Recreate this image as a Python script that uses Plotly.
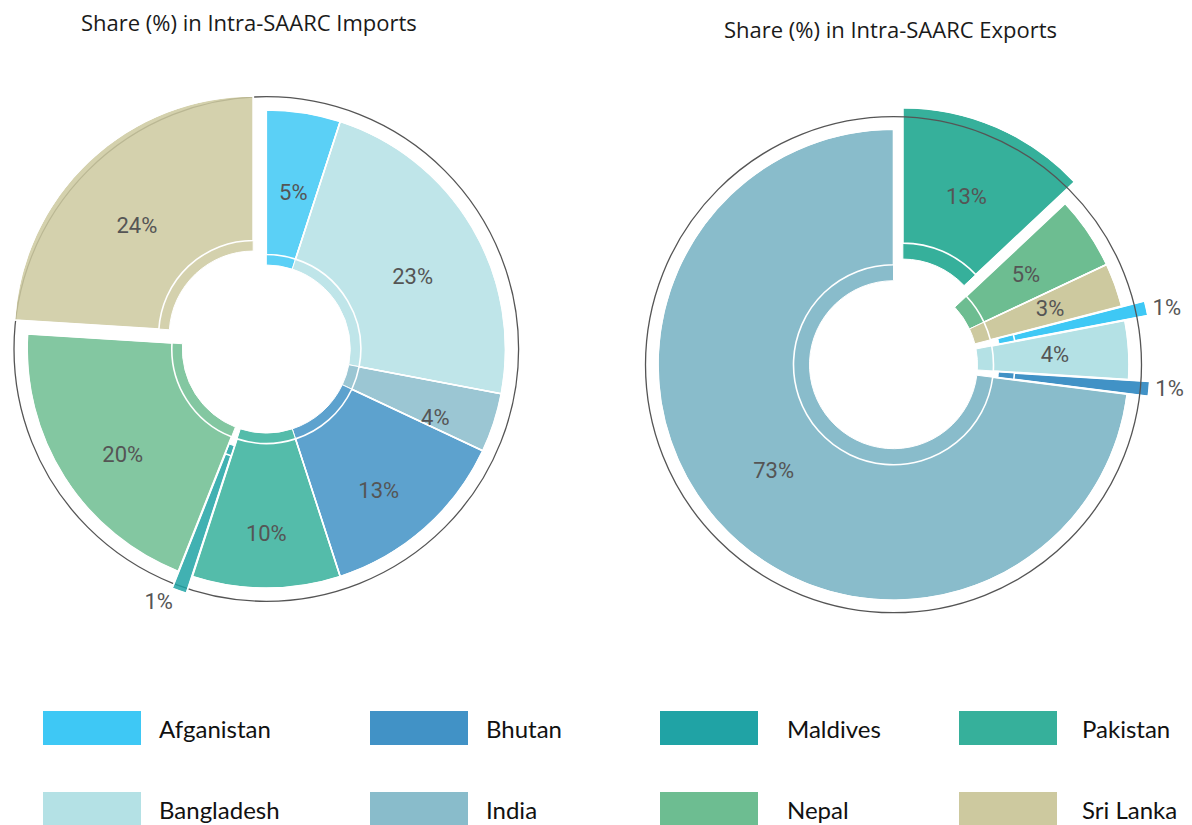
import plotly.graph_objects as go

# ---------------- data ----------------
countries = ["Afganistan", "Bhutan", "Maldives", "Pakistan",
             "Bangladesh", "India", "Nepal", "Sri Lanka"]
country_colors = ["#3ec8f5", "#4192c6", "#20a3a5", "#36b09b",
                  "#b4e1e5", "#89bccb", "#6dbd91", "#cdc99f"]

imports_labels = ["Afganistan", "Bangladesh", "India", "Bhutan",
                  "Pakistan", "Maldives", "Nepal", "Sri Lanka"]
imports_values = [5, 23, 4, 13, 10, 1, 20, 24]

exports_labels = ["Pakistan", "Nepal", "Sri Lanka", "Afganistan",
                  "Bangladesh", "Bhutan", "India"]
exports_values = [13, 5, 3, 1, 4, 1, 73]

titles = ["Share (%) in Intra-SAARC Imports", "Share (%) in Intra-SAARC Exports"]

# ---------------- styling / geometry ----------------
W, H = 1192, 825
OFF = 8  # page body margin of the html page
color_of = dict(zip(countries, country_colors))
LABEL_FONT = dict(family="Roboto", size=22, color="#555555")


def rgba(hx, a):
    hx = hx.lstrip("#")
    r, g, b = int(hx[0:2], 16), int(hx[2:4], 16), int(hx[4:6], 16)
    return f"rgba({r},{g},{b},{a})"


def px(x):
    return (x - OFF) / W


def py(y):
    return 1 - (y - OFF) / H


def pie_box(cx, cy, r, maxpull):
    """Square domain around (cx, cy); returns domain and effective radius."""
    half = r * (1 + maxpull)
    half = min(half, cx - OFF, W + OFF - cx, cy - OFF, H + OFF - cy)
    dom = dict(x=[max(0.0, px(cx - half)), min(1.0, px(cx + half))],
               y=[max(0.0, py(cy + half)), min(1.0, py(cy - half))])
    return dom, half / (1 + maxpull)


pies = [
    dict(labels=imports_labels, values=imports_values,
         pull=[0, 0, 0, 0, 0, 0.075, 0, 0.08],
         outside=["Maldives"], main_inside=[], alpha=0.85,
         cx=266.3, cy=349.0, r=243.0, hole=84.0, ring=94.5, circle=252.3,
         text_r=200.0, text_hole=0.70, text_dy=14.0, circle_layer="below"),
    dict(labels=exports_labels, values=exports_values,
         pull=[0.1, 0, 0, 0.1, 0, 0.09, 0],
         outside=["Afganistan", "Bhutan"], main_inside=["India"], alpha=1.0,
         cx=893.5, cy=364.7, r=235.5, hole=84.0, ring=100.0, circle=248.0,
         text_r=182.0, text_hole=0.76, text_dy=0.0, circle_layer="above"),
]

fig = go.Figure()
shapes = []
annotations = []

for p in pies:
    n = len(p["labels"])
    dom, r_eff = pie_box(p["cx"], p["cy"], p["r"], max(p["pull"]))
    mode = ["outside" if l in p["outside"] else
            "main" if l in p["main_inside"] else "text" for l in p["labels"]]
    pct = [f"{v}%" for v in p["values"]]
    common = dict(labels=p["labels"], values=p["values"], sort=False,
                  direction="clockwise", rotation=0, automargin=False,
                  showlegend=False)
    # main slices (+ outside labels for the tiny slices)
    fig.add_trace(go.Pie(
        **common, pull=p["pull"], hole=p["hole"] / r_eff, domain=dom,
        marker=dict(colors=[rgba(color_of[l], p["alpha"]) for l in p["labels"]],
                    line=dict(color="white", width=1)),
        text=pct, textinfo="text",
        textposition=[{"outside": "outside", "main": "inside"}.get(m, "none") for m in mode],
        insidetextorientation="horizontal",
        insidetextfont=LABEL_FONT, outsidetextfont=LABEL_FONT,
        hoverinfo="label+value",
    ))
    # thin white ring inside each slice
    fig.add_trace(go.Pie(
        **common, pull=p["pull"], hole=p["ring"] / r_eff, domain=dom,
        marker=dict(colors=["rgba(0,0,0,0)"] * n,
                    line=dict(color="white", width=1.6)),
        textinfo="none", hoverinfo="skip",
    ))
    # transparent copy that only carries the inside percentage labels
    offsets = [pl * r_eff for pl in p["pull"]]
    tpull = [o / p["text_r"] for o in offsets]
    tdom, _ = pie_box(p["cx"], p["cy"] + p["text_dy"], p["text_r"], max(tpull))
    fig.add_trace(go.Pie(
        **common, pull=tpull, hole=p["text_hole"], domain=tdom,
        marker=dict(colors=["rgba(0,0,0,0)"] * n, line=dict(width=0)),
        text=pct, textinfo="text",
        textposition=["inside" if m == "text" else "none" for m in mode],
        insidetextorientation="horizontal",
        insidetextfont=LABEL_FONT, hoverinfo="skip",
    ))
    shapes.append(dict(
        type="circle", xref="paper", yref="paper",
        x0=px(p["cx"] - p["circle"]), x1=px(p["cx"] + p["circle"]),
        y0=py(p["cy"] + p["circle"]), y1=py(p["cy"] - p["circle"]),
        line=dict(color="#555555", width=1.3), layer=p["circle_layer"],
    ))

# titles
title_pos = [(249, 22), (890, 29)]
for t, (tx, ty) in zip(titles, title_pos):
    annotations.append(dict(
        text=t, x=px(tx), y=py(ty), xref="paper", yref="paper",
        xanchor="center", yanchor="middle", showarrow=False,
        font=dict(family="Open Sans", size=22, color="#1a1a1a"),
    ))

# legend (2 rows x 4 columns)
col_box_x = [43, 370, 660, 959]
col_text_x = [157, 484, 785, 1080]
row_box_y = [711, 792]
box_w, box_h = 98, 34
for i, (name, col) in enumerate(zip(countries, country_colors)):
    r_, c_ = divmod(i, 4)
    x0 = col_box_x[c_]
    y0 = row_box_y[r_]
    shapes.append(dict(
        type="rect", xref="paper", yref="paper",
        x0=px(x0), x1=px(x0 + box_w), y0=py(y0 + box_h), y1=py(y0),
        fillcolor=col, line=dict(width=0), layer="above",
    ))
    annotations.append(dict(
        text=name, x=px(col_text_x[c_]), y=py(y0 + box_h / 2),
        xref="paper", yref="paper", xanchor="left", yanchor="middle",
        showarrow=False,
        font=dict(family="Lato", size=24, color="#111111"),
    ))

fig.update_layout(
    width=W, height=H, autosize=False,
    margin=dict(l=0, r=0, t=0, b=0, pad=0, autoexpand=False),
    paper_bgcolor="white", plot_bgcolor="white",
    shapes=shapes, annotations=annotations,
    uniformtext=dict(minsize=22, mode="show"),
)

fig.write_html("out.html")
